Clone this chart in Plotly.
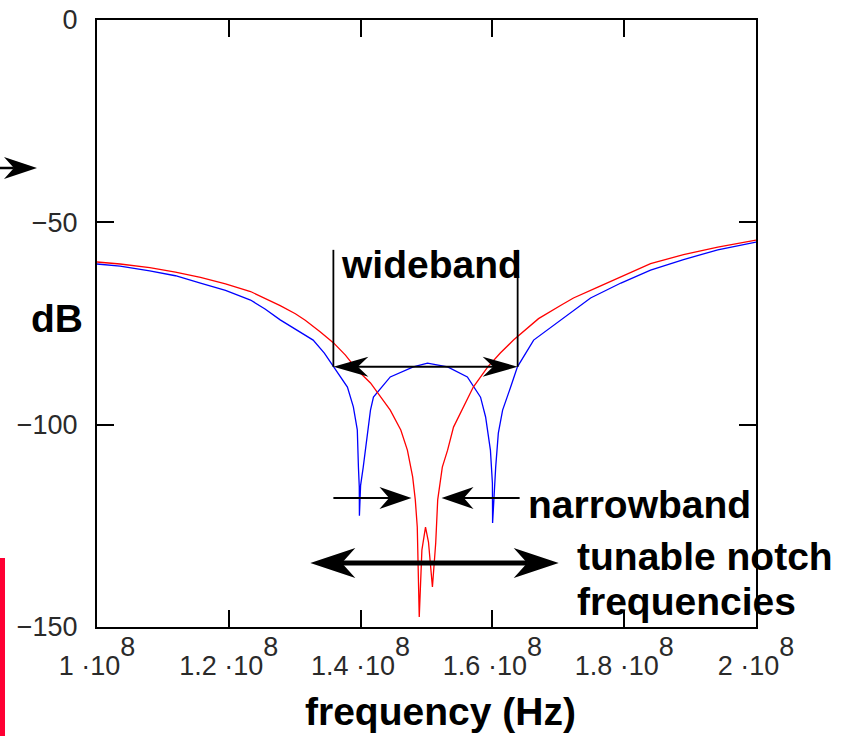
import plotly.graph_objects as go

# ---------------- data ----------------
RED_FREQ_MHZ = [100.0, 103.5, 108.0, 111.9, 115.7, 119.5, 123.3, 125.5, 127.8, 130.1,
                131.6, 133.9, 135.9, 137.7, 139.5, 141.5, 143.0, 144.5, 146.1, 147.1,
                147.9, 148.3, 148.6, 148.75, 148.9, 149.3, 149.85, 150.3, 150.9, 151.4,
                151.7, 152.4, 153.2, 154.1, 155.6, 157.1, 159.3, 161.2, 163.2, 167.0,
                170.4, 172.3, 176.0, 180.0, 184.0, 189.0, 194.2, 200.0]
RED_DB = [-59.8, -60.3, -61.2, -62.3, -63.6, -65.2, -67.1, -68.8, -70.6, -72.6,
          -74.2, -77.1, -79.8, -82.8, -86.5, -89.7, -93.2, -96.4, -101.3, -106.3,
          -112.9, -118.6, -125.3, -134.0, -147.5, -131.0, -125.3, -129.0, -140.1, -129.2,
          -118.6, -110.5, -106.3, -100.6, -95.6, -90.7, -85.7, -82.3, -79.1, -73.8,
          -70.5, -68.7, -66.0, -63.0, -60.2, -58.0, -56.1, -54.4]

BLUE_FREQ_MHZ = [100.0, 103.5, 108.0, 111.9, 115.7, 119.5, 123.3, 125.5, 127.8, 130.1,
                 132.8, 134.5, 135.9, 137.0, 138.0, 138.9, 139.5, 139.67, 139.8, 139.82,
                 140.0, 140.4, 141.0, 141.5, 141.95, 144.5, 148.0, 150.15, 153.2, 156.2,
                 158.2, 158.97, 159.7, 160.0, 160.03, 160.3, 160.5, 160.9, 161.55, 162.77,
                 163.8, 166.26, 170.36, 174.9, 179.5, 184.0, 189.0, 194.2, 200.0]
BLUE_DB = [-60.3, -60.8, -62.0, -63.2, -65.0, -66.8, -69.2, -71.4, -74.1, -76.5,
           -79.1, -82.3, -85.7, -88.2, -90.7, -95.6, -101.3, -110.5, -115.4, -122.5,
           -115.0, -110.5, -102.1, -96.4, -93.2, -88.2, -85.7, -84.8, -85.7, -88.2,
           -93.2, -98.1, -106.3, -114.4, -124.3, -115.0, -110.5, -102.1, -96.4, -90.7,
           -85.7, -79.1, -74.1, -68.7, -65.0, -61.8, -59.2, -56.8, -54.9]

X_TICKS_HZ = [1.0e8, 1.2e8, 1.4e8, 1.6e8, 1.8e8, 2.0e8]
X_TICK_MANT = ["1", "1.2", "1.4", "1.6", "1.8", "2"]
Y_TICKS = [0, -50, -100, -150]
Y_TICK_TEXT = ["0", "\u221250", "\u2212100", "\u2212150"]

X_MIN, X_MAX = 1.0e8, 2.0e8
Y_MIN, Y_MAX = -150, 0

# annotation geometry (data units)
WIDE_LEFT, WIDE_RIGHT = 1.3587e8, 1.6383e8
WIDE_TOP, WIDE_LEVEL = -56.8, -85.7
NARROW_LEVEL = -118.1
NARROW_L_START, NARROW_L_TIP = 1.3587e8, 1.4772e8
NARROW_R_START, NARROW_R_TIP = 1.6413e8, 1.5228e8
TUNE_LEVEL = -134.2
TUNE_LEFT, TUNE_RIGHT = 1.3237e8, 1.7006e8

# ---------------- layout constants ----------------
W, H = 851, 736
ML, MR, MT, MB = 97, 95, 20, 109
PLOT_W = W - ML - MR
HZ_PER_PX = (X_MAX - X_MIN) / PLOT_W
TICK_SIZE = 27

TICK_FONT = dict(family="Liberation Sans, Arial, sans-serif", size=TICK_SIZE, color="#2a2a2a")
BOLD_FONT = dict(family="Liberation Sans, Arial, sans-serif", size=39, color="black", weight="bold")

fig = go.Figure()
fig.add_trace(go.Scatter(x=[f * 1e6 for f in BLUE_FREQ_MHZ], y=BLUE_DB, mode="lines",
                         line=dict(color="#0000ff", width=1.3), showlegend=False))
fig.add_trace(go.Scatter(x=[f * 1e6 for f in RED_FREQ_MHZ], y=RED_DB, mode="lines",
                         line=dict(color="#ff0000", width=1.3), showlegend=False))

x_ticktext = [f"{m} \u00b710<sup><sup><span style='font-size:{TICK_SIZE}px'>8</span></sup></sup>"
              for m in X_TICK_MANT]

axis_common = dict(showline=True, linecolor="black", linewidth=2, mirror="allticks",
                   ticks="inside", ticklen=17, tickwidth=1.5, tickcolor="black",
                   showgrid=False, zeroline=False, tickfont=TICK_FONT, automargin=False)

fig.update_xaxes(range=[X_MIN, X_MAX], tickvals=X_TICKS_HZ, ticktext=x_ticktext,
                 ticklabelstandoff=14, **axis_common)
fig.update_yaxes(range=[Y_MIN, Y_MAX], tickvals=Y_TICKS, ticktext=Y_TICK_TEXT,
                 ticklabelstandoff=12, **axis_common)


def head_path(direction, L, Wd, offset=0):
    d = direction
    return (f"M{offset},0 L{offset - d * L},{Wd} L{offset - d * 0.7 * L},0 "
            f"L{offset - d * L},{-Wd} Z")


shapes = []
BLACK = "black"

# wideband bracket
for xv in (WIDE_LEFT, WIDE_RIGHT):
    shapes.append(dict(type="line", xref="x", yref="y", x0=xv, x1=xv, y0=WIDE_TOP, y1=WIDE_LEVEL,
                       line=dict(color=BLACK, width=1.8)))
L_w, W_w = 35, 10
shapes.append(dict(type="line", xref="x", yref="y",
                   x0=WIDE_LEFT + 0.7 * L_w * HZ_PER_PX, x1=WIDE_RIGHT - 0.7 * L_w * HZ_PER_PX,
                   y0=WIDE_LEVEL, y1=WIDE_LEVEL, line=dict(color=BLACK, width=2)))
for xv, d in ((WIDE_LEFT, -1), (WIDE_RIGHT, 1)):
    shapes.append(dict(type="path", xref="x", yref="y", xsizemode="pixel", ysizemode="pixel",
                       xanchor=xv, yanchor=WIDE_LEVEL, path=head_path(d, L_w, W_w),
                       fillcolor=BLACK, line=dict(width=0)))

# narrowband arrows
L_n, W_n = 32, 11
for start, tip, d in ((NARROW_L_START, NARROW_L_TIP, 1), (NARROW_R_START, NARROW_R_TIP, -1)):
    shapes.append(dict(type="line", xref="x", yref="y", x0=start, x1=tip - d * 0.7 * L_n * HZ_PER_PX,
                       y0=NARROW_LEVEL, y1=NARROW_LEVEL, line=dict(color=BLACK, width=2)))
    shapes.append(dict(type="path", xref="x", yref="y", xsizemode="pixel", ysizemode="pixel",
                       xanchor=tip, yanchor=NARROW_LEVEL, path=head_path(d, L_n, W_n),
                       fillcolor=BLACK, line=dict(width=0)))

# tunable double arrow
L_t, W_t = 45, 15
shapes.append(dict(type="line", xref="x", yref="y",
                   x0=TUNE_LEFT + 0.7 * L_t * HZ_PER_PX, x1=TUNE_RIGHT - 0.7 * L_t * HZ_PER_PX,
                   y0=TUNE_LEVEL, y1=TUNE_LEVEL, line=dict(color=BLACK, width=5)))
for xv, d in ((TUNE_LEFT, -1), (TUNE_RIGHT, 1)):
    shapes.append(dict(type="path", xref="x", yref="y", xsizemode="pixel", ysizemode="pixel",
                       xanchor=xv, yanchor=TUNE_LEVEL, path=head_path(d, L_t, W_t),
                       fillcolor=BLACK, line=dict(width=0)))

# small arrow at left margin (outside plot)
ARROW_Y_PAPER = 1 - (168 - MT) / (H - MT - MB)
L_a, W_a = 33, 11
shapes.append(dict(type="line", xref="paper", yref="paper", xsizemode="pixel", ysizemode="pixel",
                   xanchor=0, yanchor=ARROW_Y_PAPER, x0=-ML, x1=-60 - 0.7 * L_a, y0=0, y1=0,
                   line=dict(color=BLACK, width=2.5)))
shapes.append(dict(type="path", xref="paper", yref="paper", xsizemode="pixel", ysizemode="pixel",
                   xanchor=0, yanchor=ARROW_Y_PAPER, path=head_path(1, L_a, W_a, offset=-60),
                   fillcolor=BLACK, line=dict(width=0)))

# red bar at the far left edge
shapes.append(dict(type="rect", xref="paper", yref="paper", xsizemode="pixel", ysizemode="pixel",
                   xanchor=0, yanchor=0, x0=-ML, x1=-ML + 5, y0=-MB, y1=69,
                   fillcolor="#ff0033", line=dict(width=0)))

annotations = [
    dict(text="wideband", x=1.5076e8, y=-60.4, xref="x", yref="y", showarrow=False,
         xanchor="center", yanchor="middle", font=BOLD_FONT),
    dict(text="narrowband", x=1.6505e8, y=-119.7, xref="x", yref="y", showarrow=False,
         xanchor="left", yanchor="middle", font=BOLD_FONT),
    dict(text="tunable notch", x=1.725e8, y=-132.6, xref="x", yref="y", showarrow=False,
         xanchor="left", yanchor="middle", font=BOLD_FONT),
    dict(text="frequencies", x=1.725e8, y=-143.7, xref="x", yref="y", showarrow=False,
         xanchor="left", yanchor="middle", font=BOLD_FONT),
    dict(text="dB", x=0, xshift=-40, y=-73.8, xref="paper", yref="y", showarrow=False,
         xanchor="center", yanchor="middle", font=BOLD_FONT),
    dict(text="frequency (Hz)", x=1.5213e8, y=0, yshift=-84.5, xref="x", yref="paper",
         showarrow=False, xanchor="center", yanchor="middle", font=BOLD_FONT),
]

fig.update_layout(width=W, height=H, margin=dict(l=ML, r=MR, t=MT, b=MB),
                  plot_bgcolor="white", paper_bgcolor="white",
                  shapes=shapes, annotations=annotations, showlegend=False)

fig.write_html("out.html")
